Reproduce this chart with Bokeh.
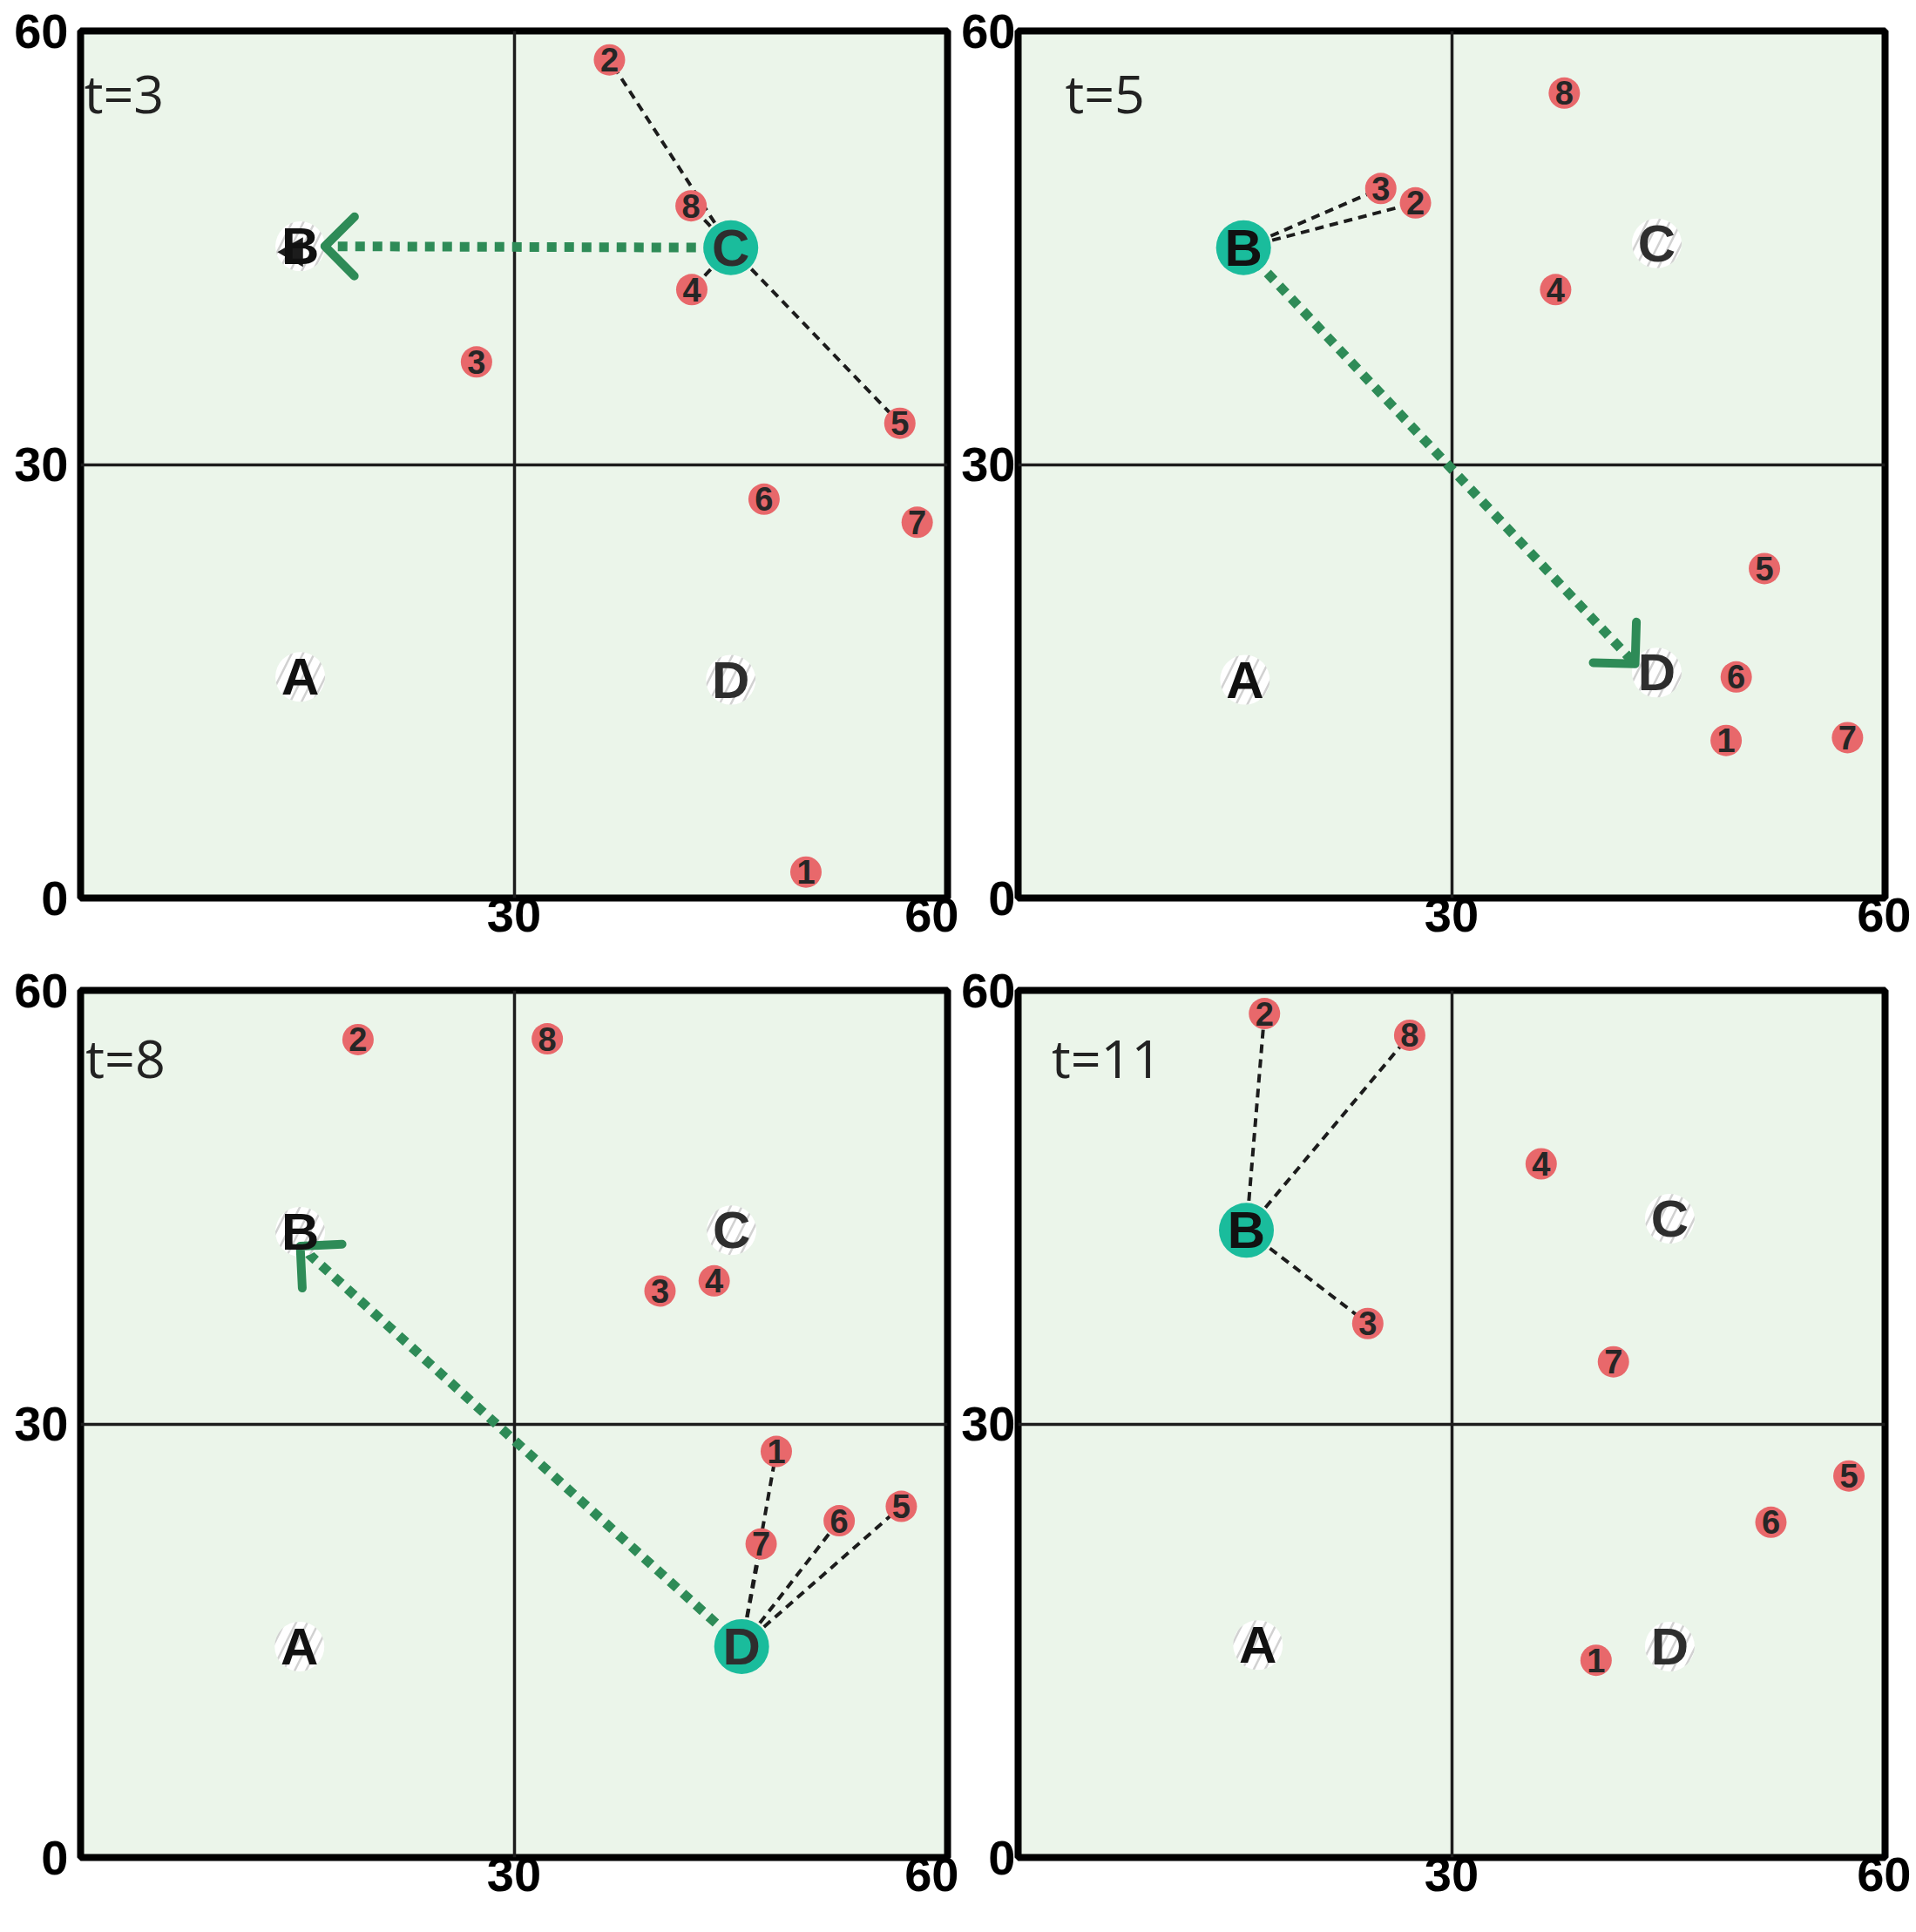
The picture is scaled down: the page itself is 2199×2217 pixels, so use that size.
import math
from bokeh.plotting import figure
from bokeh.models import Range1d, FixedTicker
from bokeh.layouts import column, row
from bokeh.embed import file_html
from bokeh.resources import INLINE
from bokeh.core.properties import value

# ---------------- data ----------------
PANELS = ["t=3", "t=5", "t=8", "t=11"]
HUB_NAMES = ["A", "B", "C", "D"]
NODE_IDS = ["1", "2", "3", "4", "5", "6", "7", "8"]

HUB_X = {"t=3": [15.2, 15.2, 45.0, 45.0],
         "t=5": [15.7, 15.6, 44.2, 44.2],
         "t=8": [15.15, 15.2, 45.05, 45.75],
         "t=11": [16.6, 15.8, 45.1, 45.1]}
HUB_Y = {"t=3": [15.3, 45.1, 45.0, 15.1],
         "t=5": [15.1, 45.0, 45.3, 15.6],
         "t=8": [14.6, 43.3, 43.4, 14.6],
         "t=11": [14.7, 43.4, 44.2, 14.6]}

ACTIVE_HUB = {"t=3": "C", "t=5": "B", "t=8": "D", "t=11": "B"}

NODE_X = {"t=3": [50.2, 36.6, 27.4, 42.3, 56.7, 47.3, 57.9, 42.25],
          "t=5": [49.0, 27.5, 25.1, 37.2, 51.65, 49.7, 57.4, 37.8],
          "t=8": [48.15, 19.2, 40.1, 43.85, 56.8, 52.5, 47.1, 32.3],
          "t=11": [40.0, 17.05, 24.2, 36.2, 57.5, 52.1, 41.2, 27.1]}
NODE_Y = {"t=3": [1.8, 58.0, 37.1, 42.1, 32.85, 27.6, 26.0, 47.9],
          "t=5": [10.9, 48.1, 49.1, 42.1, 22.8, 15.3, 11.1, 55.7],
          "t=8": [28.1, 56.6, 39.2, 39.9, 24.3, 23.3, 21.7, 56.65],
          "t=11": [13.65, 58.4, 36.95, 48.0, 26.4, 23.2, 34.3, 56.9]}

# dashed links: active hub -> these nodes
LINKS = {"t=3": ["2", "4", "5", "8"],
         "t=5": ["2", "3"],
         "t=8": ["1", "5", "6", "7"],
         "t=11": ["2", "3", "8"]}

# green move arrow: from active hub to tip point
ARROW_TIP_X = {"t=3": 16.9, "t=5": 42.7, "t=8": 15.2, "t=11": None}
ARROW_TIP_Y = {"t=3": 45.1, "t=5": 16.2, "t=8": 42.3, "t=11": None}

# stray black triangle seen next to B at t=3
STRAY_X = {"t=3": [14.8]}
STRAY_Y = {"t=3": [44.7]}

X_TICKS = [30, 60]
Y_TICKS = [0, 30, 60]
QUAD_LINES = [30]

# ---------------- styles ----------------
BG = "#ebf5ea"
GREEN = "#2e8b57"
TEAL = "#1abc9c"
RED = "#e8686b"
INK = "#1c1c1c"
HUB_TEXT_COLORS = {"A": "#111111", "B": "#111111", "C": "#2e2e2e", "D": "#2e2e2e"}
TITLE_POS = {"t=3": (0.25, 55.72), "t=5": (3.25, 55.74),
             "t=8": (0.35, 55.36), "t=11": (2.32, 55.36)}
HEAD_LEN = 2.9  # arrow head wing length in data units

FRAME = 995
LAYOUT = {
    "t=3": dict(min_border_left=92, min_border_right=13, min_border_top=35, min_border_bottom=66, ystand=14),
    "t=5": dict(min_border_left=66, min_border_right=30, min_border_top=35, min_border_bottom=66, ystand=3),
    "t=8": dict(min_border_left=92, min_border_right=13, min_border_top=40, min_border_bottom=78, ystand=14),
    "t=11": dict(min_border_left=66, min_border_right=30, min_border_top=40, min_border_bottom=78, ystand=3),
}


def make_panel(key, left_col):
    lay = LAYOUT[key]
    p = figure(frame_width=FRAME, frame_height=FRAME,
               x_range=Range1d(0, 60), y_range=Range1d(0, 60),
               output_backend="svg", toolbar_location=None,
               min_border_left=lay["min_border_left"], min_border_right=lay["min_border_right"],
               min_border_top=lay["min_border_top"], min_border_bottom=lay["min_border_bottom"])
    p.background_fill_color = BG
    p.border_fill_color = "white"
    p.outline_line_color = "black"
    p.outline_line_width = 8

    p.xaxis.ticker = FixedTicker(ticks=X_TICKS)
    p.yaxis.ticker = FixedTicker(ticks=Y_TICKS)
    for ax in (p.xaxis[0], p.yaxis[0]):
        ax.axis_line_color = None
        ax.major_tick_line_color = None
        ax.minor_tick_line_color = None
        ax.major_tick_out = 0
        ax.major_tick_in = 0
        ax.major_label_text_font = "Liberation Sans"
        ax.major_label_text_font_size = "56px"
        ax.major_label_text_font_style = "bold"
        ax.major_label_text_color = "black"
    p.xaxis.major_label_standoff = 0
    p.yaxis.major_label_standoff = lay["ystand"]
    if left_col:
        p.xaxis.major_label_text_align = "right"

    p.xgrid.ticker = FixedTicker(ticks=QUAD_LINES)
    p.ygrid.ticker = FixedTicker(ticks=QUAD_LINES)
    for g in (p.xgrid[0], p.ygrid[0]):
        g.grid_line_color = INK
        g.grid_line_width = 3.5
        g.grid_line_alpha = 1.0

    hx, hy = HUB_X[key], HUB_Y[key]
    nx, ny = NODE_X[key], NODE_Y[key]
    act = HUB_NAMES.index(ACTIVE_HUB[key])
    ax0, ay0 = hx[act], hy[act]

    # dashed links
    xs, ys = [], []
    for nid in LINKS[key]:
        i = NODE_IDS.index(nid)
        xs.append([ax0, nx[i]])
        ys.append([ay0, ny[i]])
    p.multi_line(xs, ys, line_color=INK, line_width=4, line_dash="10 7")

    # green arrow shaft
    tx, ty = ARROW_TIP_X[key], ARROW_TIP_Y[key]
    if tx is not None:
        p.line([ax0, tx], [ay0, ty], line_color=GREEN, line_width=11, line_dash="11 9")

    # hubs
    inactive = [i for i in range(4) if i != act]
    p.scatter([hx[i] for i in inactive], [hy[i] for i in inactive], size=57,
              fill_color="white", line_color=None,
              hatch_pattern="/", hatch_color="#9a9a9a", hatch_alpha=0.45,
              hatch_weight=2.5, hatch_scale=26)
    p.scatter([ax0], [ay0], size=63, fill_color=TEAL, line_color=None)

    # green arrow head (open chevron)
    if tx is not None:
        dx, dy = tx - ax0, ty - ay0
        L = math.hypot(dx, dy)
        ux, uy = -dx / L, -dy / L
        c, s = math.cos(math.pi / 4), math.sin(math.pi / 4)
        w1 = (ux * c - uy * s, ux * s + uy * c)
        w2 = (ux * c + uy * s, -ux * s + uy * c)
        p.line([tx + HEAD_LEN * w1[0], tx, tx + HEAD_LEN * w2[0]],
               [ty + HEAD_LEN * w1[1], ty, ty + HEAD_LEN * w2[1]],
               line_color=GREEN, line_width=10, line_cap="round", line_join="round")

    # stray black triangle
    if key in STRAY_X:
        p.scatter(STRAY_X[key], STRAY_Y[key], marker="triangle", angle=math.pi / 2,
                  size=34, fill_color=INK, line_color=None)

    # hub letters
    for i, name in enumerate(HUB_NAMES):
        p.text([hx[i]], [hy[i]], text=[name], text_font=value("Liberation Sans"),
               text_font_style="bold", text_font_size="60px",
               text_align="center", text_baseline="middle",
               text_color=HUB_TEXT_COLORS[name])

    # nodes
    p.scatter(nx, ny, size=36, fill_color=RED, line_color=None)
    p.text(nx, ny, text=NODE_IDS, text_font=value("Liberation Sans"),
           text_font_style="bold", text_font_size="38px",
           text_align="center", text_baseline="middle", text_color="#262626")

    # time label
    tpx, tpy = TITLE_POS[key]
    p.text([tpx], [tpy], text=[key], text_font=value("Open Sans"),
           text_font_size="61px", text_align="left", text_baseline="alphabetic",
           text_color="#222222")
    return p


p1 = make_panel("t=3", True)
p2 = make_panel("t=5", False)
p3 = make_panel("t=8", True)
p4 = make_panel("t=11", False)

layout = column(row(p1, p2), row(p3, p4))
open("out.html", "w").write(file_html(layout, INLINE))
